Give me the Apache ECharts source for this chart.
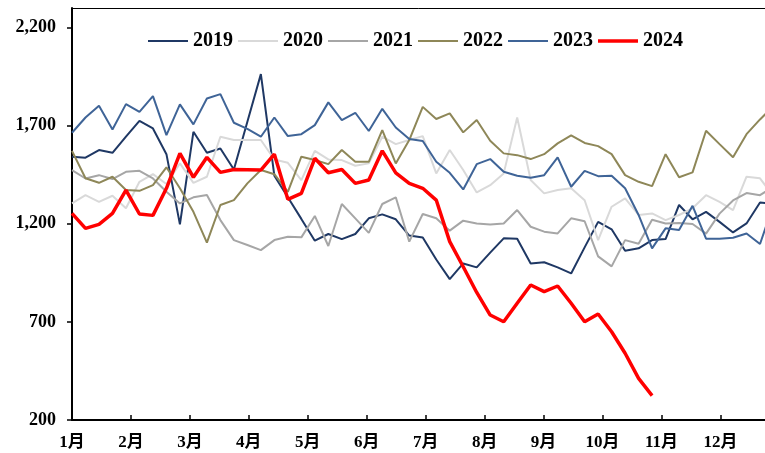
<!DOCTYPE html>
<html>
<head>
<meta charset="utf-8">
<script src="https://cdn.jsdelivr.net/npm/echarts@6/dist/echarts.min.js"></script>
<style>
  html, body { margin: 0; padding: 0; background: #fff; }
  #chart { width: 765px; height: 453px; }
</style>
</head>
<body>
<div id="chart"></div>
<script>
// Weekly values, one array per year (week 1 .. week 53)
const y2019 = [1542,1537,1576,1562,1644,1725,1686,1555,1197,1669,1562,1584,1477,1720,1963,1445,1335,1225,1114,1148,1122,1148,1228,1248,1223,1140,1130,1018,918,998,978,1053,1126,1124,998,1004,978,947,1080,1210,1172,1063,1075,1117,1122,1296,1223,1261,1210,1156,1202,1309,1300];
const y2020 = [1304,1346,1312,1343,1279,1414,1453,1403,1508,1409,1440,1644,1627,1627,1627,1528,1511,1423,1572,1528,1525,1496,1508,1644,1606,1627,1647,1457,1576,1474,1360,1397,1457,1742,1423,1355,1372,1381,1320,1117,1287,1330,1245,1253,1219,1245,1279,1346,1312,1270,1440,1432,1340];
const y2021 = [1474,1431,1448,1428,1465,1470,1431,1363,1304,1335,1347,1219,1117,1092,1066,1117,1134,1131,1240,1087,1301,1228,1154,1301,1335,1109,1250,1228,1165,1216,1202,1197,1202,1270,1185,1160,1151,1228,1213,1034,983,1117,1098,1221,1202,1204,1199,1150,1252,1319,1357,1346,1390];
const y2022 = [1572,1432,1409,1440,1372,1368,1397,1488,1381,1261,1104,1296,1321,1406,1474,1453,1363,1542,1525,1504,1576,1516,1516,1678,1508,1627,1796,1734,1763,1666,1729,1623,1559,1550,1530,1555,1610,1651,1612,1596,1555,1448,1414,1392,1555,1437,1462,1674,1606,1539,1657,1732,1800];
const y2023 = [1664,1742,1802,1681,1810,1771,1851,1652,1809,1707,1839,1861,1715,1684,1644,1742,1647,1657,1703,1819,1729,1766,1673,1786,1691,1632,1622,1516,1460,1375,1504,1530,1465,1445,1435,1448,1539,1389,1470,1443,1445,1381,1245,1075,1177,1168,1292,1124,1124,1129,1151,1097,1300];
const y2024 = [1253,1177,1197,1253,1372,1250,1243,1381,1559,1437,1539,1462,1477,1476,1474,1555,1325,1355,1534,1460,1477,1406,1423,1572,1460,1406,1381,1321,1109,981,850,735,701,795,888,854,883,795,701,740,650,540,412,324];

const seriesNames = ['2019', '2020', '2021', '2022', '2023', '2024'];
const monthLabels = ['1月','2月','3月','4月','5月','6月','7月','8月','9月','10月','11月','12月'];
const yTicks = [200, 700, 1200, 1700, 2200];

const WEEKS = 53;
const MONTH_SPAN = 11.9;   // months covered by the 52 weekly steps
const weekCategories = Array.from({ length: WEEKS }, (_, i) => 'W' + (i + 1));
const monthTicks = monthLabels.map((_, i) => i);

const FONT = '"Times New Roman", "Liberation Serif", "Noto Sans CJK SC", serif';
const colors = ['#1F3864', '#D9D9D9', '#A6A6A6', '#8E8758', '#3F6497', '#FF0000'];
const values = [y2019, y2020, y2021, y2022, y2023, y2024];

// legend keys are plain line segments (thicker for the current year)
const thinKey = 'path://M0,0H40V2H0Z';
const thickKey = 'path://M0,0H40V3.5H0Z';

const chart = echarts.init(document.getElementById('chart'), null, { renderer: 'canvas' });

chart.setOption({
  animation: false,
  backgroundColor: '#fff',
  color: colors,
  grid: { left: 72, right: -8.5, top: 8, bottom: 33, outerBoundsMode: 'none', containLabel: false },
  legend: {
    data: seriesNames.map(n => ({ name: n, icon: n === '2024' ? thickKey : thinKey })),
    left: 143,
    top: 26,
    itemWidth: 40,
    itemHeight: 14,
    itemGap: 5,
    symbolKeepAspect: true,
    textStyle: { fontFamily: FONT, fontSize: 20, fontWeight: 'bold', color: '#000' }
  },
  xAxis: [
    {
      // weekly positions of the data; drawn only as the top frame line
      type: 'category',
      data: weekCategories,
      boundaryGap: false,
      position: 'top',
      axisLine: { show: true, lineStyle: { color: '#000', width: 1 } },
      axisTick: { show: false },
      axisLabel: { show: false },
      splitLine: { show: false }
    },
    {
      // month scale along the bottom
      type: 'value',
      min: 0,
      max: MONTH_SPAN,
      position: 'bottom',
      axisLine: { show: true, lineStyle: { color: '#000', width: 2 } },
      axisTick: { show: true, inside: true, length: 5, customValues: monthTicks, lineStyle: { color: '#000', width: 1.5 } },
      axisLabel: {
        customValues: monthTicks,
        formatter: v => monthLabels[Math.round(v)] || '',
        margin: 14,
        fontFamily: FONT,
        fontSize: 17,
        fontWeight: 'bold',
        color: '#000'
      },
      splitLine: { show: false }
    }
  ],
  yAxis: {
    type: 'value',
    min: 200,
    max: 2300,
    axisLine: { show: true, lineStyle: { color: '#000', width: 2 } },
    axisTick: { show: true, inside: false, length: 5, customValues: yTicks, lineStyle: { color: '#000', width: 1.5 } },
    axisLabel: {
      customValues: yTicks,
      formatter: v => Number(v).toLocaleString('en-US'),
      margin: 16,
      fontFamily: FONT,
      fontSize: 18,
      fontWeight: 'bold',
      color: '#000'
    },
    splitLine: { show: false }
  },
  series: seriesNames.map((name, i) => ({
    name: name,
    type: 'line',
    xAxisIndex: 0,
    data: values[i],
    symbol: 'none',
    showSymbol: false,
    smooth: false,
    z: name === '2024' ? 10 : 2 + i,
    lineStyle: { width: name === '2024' ? 3.5 : 2, color: colors[i] },
    itemStyle: { color: colors[i] }
  }))
});
</script>
</body>
</html>
